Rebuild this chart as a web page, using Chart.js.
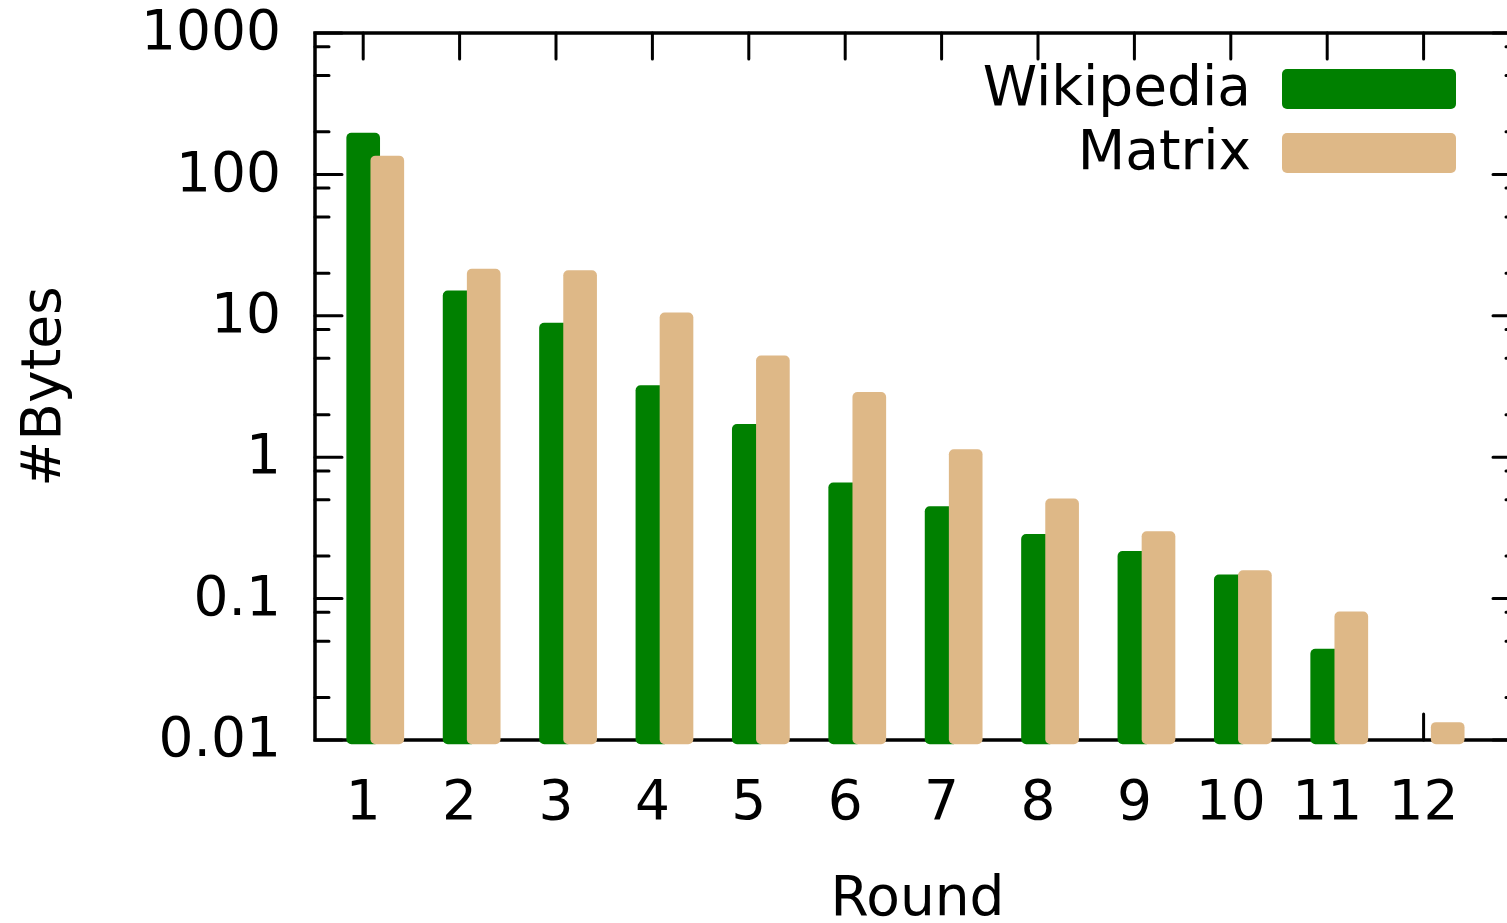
<!DOCTYPE html>
<html lang="en">
<head>
<meta charset="UTF-8">
<title>Bytes per round</title>
<script src="https://cdn.jsdelivr.net/npm/chart.js"></script>
<style>
  html, body { margin: 0; padding: 0; overflow: hidden; background: #fff; }
  canvas { display: block; }
</style>
</head>
<body>
<canvas id="chart" width="1540" height="940"></canvas>
<script>
const rounds = [1, 2, 3, 4, 5, 6, 7, 8, 9, 10, 11, 12];
const wikipedia = [196, 15.0, 8.87, 3.21, 1.71, 0.658, 0.447, 0.285, 0.216, 0.147, 0.044, null];
const matrix = [135, 21.4, 20.9, 10.5, 5.21, 2.88, 1.13, 0.507, 0.298, 0.158, 0.0805, 0.0133];
const yTickValues = [0.01, 0.1, 1, 10, 100, 1000];
const yTickLabels = ['0.01', '0.1', '1', '10', '100', '1000'];
const yMinorTicks = [0.02, 0.05, 0.08, 0.2, 0.5, 0.8, 2, 5, 8, 20, 50, 80, 200, 500, 800];

const font = { family: 'DejaVu Sans', size: 55 };

// gnuplot-like frame with inward ticks on all four sides
const frameTicks = {
  id: 'frameTicks',
  beforeDatasetsDraw(chart) {
    const { ctx, chartArea: a, scales: { x, y } } = chart;
    ctx.save();
    ctx.strokeStyle = '#000';
    ctx.lineCap = 'round';
    ctx.lineWidth = 3.5;
    ctx.strokeRect(a.left, a.top, a.right - a.left, a.bottom - a.top);
    ctx.lineWidth = 3;
    ctx.beginPath();
    const yTick = (v, len) => {
      const py = y.getPixelForValue(v);
      ctx.moveTo(a.left, py); ctx.lineTo(a.left + len, py);
      ctx.moveTo(a.right, py); ctx.lineTo(a.right - len, py);
    };
    yTickValues.forEach(v => yTick(v, 27));
    yMinorTicks.forEach(v => yTick(v, 14));
    rounds.forEach(r => {
      const px = x.getPixelForValue(r);
      ctx.moveTo(px, a.bottom); ctx.lineTo(px, a.bottom - 26);
      ctx.moveTo(px, a.top); ctx.lineTo(px, a.top + 26);
    });
    ctx.stroke();
    ctx.restore();
  }
};

// key in the top right corner, text left of the swatch
const legendBox = {
  id: 'legendBox',
  afterDraw(chart) {
    const { ctx, chartArea: a } = chart;
    const boxRight = a.right - 64, boxW = 174, boxH = 40, rowH = 64, firstRow = a.top + 56;
    ctx.save();
    ctx.font = '55px "DejaVu Sans"';
    ctx.textAlign = 'right';
    ctx.textBaseline = 'middle';
    chart.data.datasets.forEach((ds, i) => {
      const cy = firstRow + i * rowH;
      ctx.fillStyle = ds.backgroundColor;
      ctx.beginPath();
      ctx.roundRect(boxRight - boxW, cy - boxH / 2, boxW, boxH, 5);
      ctx.fill();
      ctx.fillStyle = '#000';
      ctx.fillText(ds.label, boxRight - boxW - 31, cy + 2);
    });
    ctx.restore();
  }
};

new Chart(document.getElementById('chart'), {
  type: 'bar',
  data: {
    datasets: [
      {
        label: 'Wikipedia',
        data: rounds.map((r, i) => ({ x: r, y: wikipedia[i] })),
        backgroundColor: '#008000',
        xAxisID: 'x',
        order: 1,
        clip: false
      },
      {
        label: 'Matrix',
        data: rounds.map((r, i) => ({ x: r, y: matrix[i] })),
        backgroundColor: '#deb887',
        xAxisID: 'xm',
        order: 0,
        clip: false
      }
    ]
  },
  options: {
    responsive: false,
    animation: false,
    layout: { padding: { top: 33, right: 20, left: 0, bottom: 0 } },
    datasets: {
      bar: { grouped: false, barThickness: 33, borderRadius: 5, borderSkipped: false, base: 0.0094 }
    },
    plugins: { legend: { display: false }, tooltip: { enabled: false } },
    scales: {
      x: {
        type: 'linear', position: 'bottom', min: 0.5, max: 13, offset: false,
        grid: { display: false, drawTicks: false }, border: { display: false },
        afterBuildTicks: s => { s.ticks = rounds.map(v => ({ value: v })); },
        afterFit: s => { s.height = 200; },
        ticks: { autoSkip: false, maxRotation: 0, padding: 32, color: '#000', font, callback: v => String(v) },
        title: { display: true, text: 'Round', color: '#000', font, padding: { top: 0, bottom: 6 } }
      },
      // same rounds, shifted a quarter step so Matrix sits right of Wikipedia
      xm: { type: 'linear', display: false, min: 0.25, max: 12.75, offset: false },
      y: {
        type: 'logarithmic', position: 'left', min: 0.01, max: 1000,
        grid: { display: false, drawTicks: false }, border: { display: false },
        afterBuildTicks: s => { s.ticks = yTickValues.map(v => ({ value: v })); },
        afterFit: s => { s.width = 315; s.paddingTop = 0; s.paddingBottom = 0; },
        ticks: { autoSkip: false, padding: 34, labelOffset: 2, color: '#000', font, callback: (v, i) => yTickLabels[i] },
        title: { display: true, text: '#Bytes', color: '#000', font, padding: { top: 13, bottom: 0 } }
      }
    }
  },
  plugins: [frameTicks, legendBox]
});
</script>
</body>
</html>
